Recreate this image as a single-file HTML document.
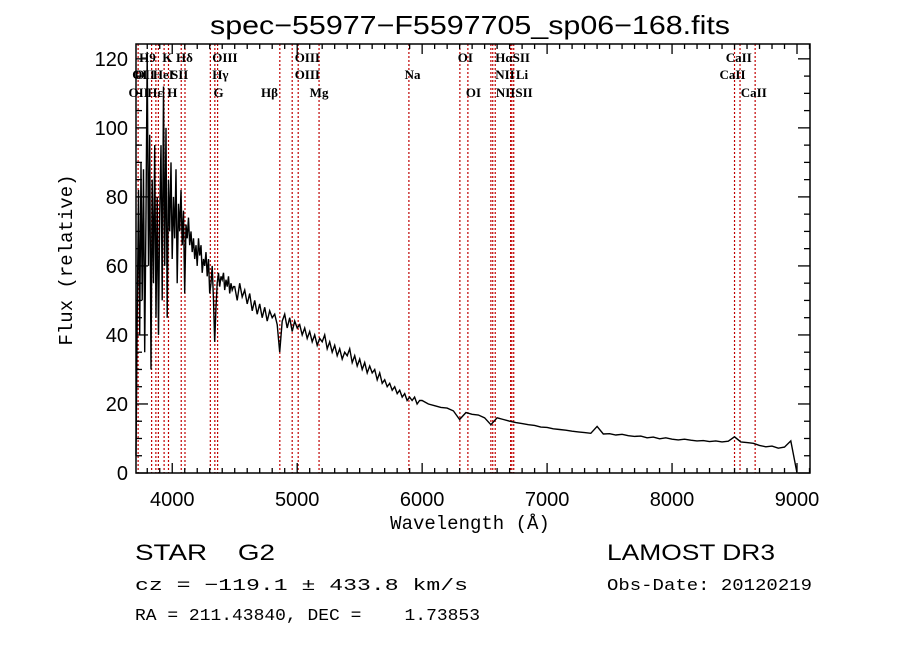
<!DOCTYPE html>
<html><head><meta charset="utf-8">
<style>
html,body{margin:0;padding:0;background:#fff;}
svg{display:block;}
</style></head>
<body>
<svg id="chart" width="900" height="649" viewBox="0 0 900 649" xmlns="http://www.w3.org/2000/svg">
<rect width="900" height="649" fill="#fff"/>
<text x="210" y="34" textLength="520" lengthAdjust="spacingAndGlyphs" font-family="Liberation Sans, sans-serif" font-size="26">spec−55977−F5597705_sp06−168.fits</text>
<g id="lines"></g>
<g id="spec"></g>
<g id="axes"></g>
<text transform="translate(72,260) rotate(-90)" text-anchor="middle" font-family="Liberation Mono, monospace" font-size="19">Flux (relative)</text>
<text x="470" y="529" text-anchor="middle" font-family="Liberation Mono, monospace" font-size="19">Wavelength (Å)</text>
<text x="135" y="560" textLength="140" lengthAdjust="spacingAndGlyphs" font-family="Liberation Sans, sans-serif" font-size="22" xml:space="preserve">STAR    G2</text>
<text x="135" y="590" textLength="333" lengthAdjust="spacingAndGlyphs" font-family="Liberation Mono, monospace" font-size="17">cz = −119.1 ± 433.8 km/s</text>
<text x="135" y="620" textLength="345" lengthAdjust="spacingAndGlyphs" font-family="Liberation Mono, monospace" font-size="17" xml:space="preserve">RA = 211.43840, DEC =    1.73853</text>
<text x="607" y="560" textLength="168" lengthAdjust="spacingAndGlyphs" font-family="Liberation Sans, sans-serif" font-size="22">LAMOST DR3</text>
<text x="607" y="590" textLength="205" lengthAdjust="spacingAndGlyphs" font-family="Liberation Mono, monospace" font-size="17">Obs-Date: 20120219</text>
</svg>
<script>
const startA = 3710, stepA = 10;
const fluxA = [5,45,82,40,90,50,88,35,75,122,60,98,30,85,55,95,45,80,40,75,95,50,112,60,100,45,85,70,90,62,80,68,88,55,78,70,82,66,76,52,72,68,74,66,70,64,68,62,66,60,68,63,66,58,62,60,64,57,62,52,55,60,50,38,48,55,58,54,57,56,58,53,56,54,57,52,55,53,54];
const startB = 4500, stepB = 20;
const fluxB = [54,50,55,51,53,49,52,47,50,46,49,45,48,44,47,45,46,43,35,44,46,42,45,41,44,42,43,40,42,39,41,38,40,37,39,38,40,36,38,35,37,34,36,33,35,34,36,32,34,31,33,30,32,29,31,29,30,27,29,26,27,25,26,24,25,23,24,22,23,21,22,21,22,20,21];
const startC = 6000, stepC = 50;
const fluxC = [21,20,19.5,19,18.8,18,15.5,17.5,17,16.8,16,14,16,15.5,15,14.6,14.3,14,13.8,13.3,13.2,12.8,12.6,12.4,12.1,11.9,11.7,11.5,13.5,11.3,11.4,11,11.2,10.8,10.6,10.7,10.2,10.4,9.9,10.2,9.8,9.6,9.8,9.5,9.3,9.4,9.1,9.3,9,9.2,10.5,9,8.8,8.6,8,7.6,7.8,7.2,7.5,9.3,0];
const lineWaves = [3727,3835,3869,3889,3935,3970,4072,4102,4305,4341,4363,4861,4960,5008,5175,5894,6302,6366,6550,6565,6585,6708,6718,6733,8500,8544,8665];
const labelText = ["OII","H9","K","H\u03B4","OIII","OI","HeI","SII","H\u03B3","OIII","Na","OI","H\u03B1SII","NII","Li","CaII","CaII","OII","H\u03B5","H","G","H\u03B2","Mg","OI","NIISII","CaII","OIII"];
const labelX = [3700,3735,3920,4030,4320,3680,3845,3990,4320,4980,5860,6285,6585,6585,6750,8430,8380,3650,3800,3960,4330,4710,5100,6350,6590,8550,4980];
const labelRow = [2,1,1,1,1,2,2,2,2,2,2,1,1,2,2,1,2,3,3,3,3,3,3,3,3,3,1];
const xTicks = [4000,5000,6000,7000,8000,9000];
const yTicks = [0,20,40,60,80,100,120];

const X0=136,X1=810,Y0=473,Y1=44,WMIN=3710,WMAX=9104,FMIN=0,FMAX=124.3;
const sx = w => X0+(w-WMIN)/(WMAX-WMIN)*(X1-X0);
const sy = f => Y0-(f-FMIN)/(FMAX-FMIN)*(Y0-Y1);
const NS="http://www.w3.org/2000/svg";
function mk(tag, attrs, parent){const e=document.createElementNS(NS,tag);for(const k in attrs)e.setAttribute(k,attrs[k]);parent.appendChild(e);return e;}

const gl=document.getElementById('lines');
lineWaves.forEach(w=>{
  const l=mk('line',{x1:sx(w),x2:sx(w),y1:Y1,y2:Y0,stroke:'#c00000','stroke-width':1.2,'stroke-dasharray':'2,2'},gl);
  
  
});
const rowY={1:62,2:79,3:97};
labelText.forEach((t,i)=>{
  const tx=mk('text',{x:sx(labelX[i]),y:rowY[labelRow[i]],'font-family':'Liberation Serif, serif','font-size':13,'font-weight':'bold'},gl);
  tx.textContent=t;
  
  
});

let pts=[];
fluxA.forEach((f,i)=>pts.push([startA+i*stepA,f]));
fluxB.forEach((f,i)=>pts.push([startB+i*stepB,f]));
fluxC.forEach((f,i)=>pts.push([startC+i*stepC,f]));
let d='';
pts.forEach((p,i)=>{d+=(i?'L':'M')+sx(p[0]).toFixed(1)+','+Math.max(Y1,sy(p[1])).toFixed(1);});
const path=mk('path',{d:d,fill:'none',stroke:'#000','stroke-width':1.4},document.getElementById('spec'));



const ga=document.getElementById('axes');
const frame=mk('rect',{x:X0,y:Y1,width:X1-X0,height:Y0-Y1,fill:'none',stroke:'#000','stroke-width':1.5},ga);


for(let w=3800;w<=9100;w+=100){
  const maj=w%1000===0, L=maj?10:5;
  mk('line',{x1:sx(w),x2:sx(w),y1:Y0,y2:Y0-L,stroke:'#000','stroke-width':1.3},ga);
  mk('line',{x1:sx(w),x2:sx(w),y1:Y1,y2:Y1+L,stroke:'#000','stroke-width':1.3},ga);
}
for(let f=0;f<=120;f+=5){
  const maj=f%20===0, L=maj?12:6;
  mk('line',{x1:X0,x2:X0+L,y1:sy(f),y2:sy(f),stroke:'#000','stroke-width':1.3},ga);
  mk('line',{x1:X1,x2:X1-L,y1:sy(f),y2:sy(f),stroke:'#000','stroke-width':1.3},ga);
}
xTicks.forEach(w=>{
  const t=mk('text',{x:sx(w),y:506,'text-anchor':'middle','font-family':'Liberation Sans, sans-serif','font-size':20},ga);
  t.textContent=w;
  
  
});
yTicks.forEach(f=>{
  const t=mk('text',{x:128,y:sy(f)+7,'text-anchor':'end','font-family':'Liberation Sans, sans-serif','font-size':20},ga);
  t.textContent=f;
  
  
});
</script>
</body></html>
